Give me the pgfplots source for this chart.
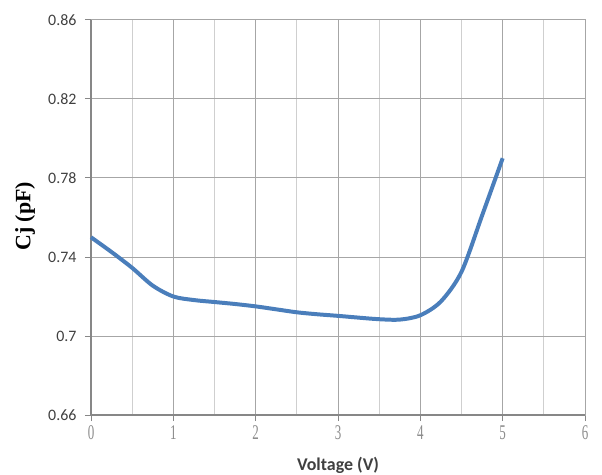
\documentclass[border=0pt]{standalone}
\usepackage{fontspec}
\setmainfont{Carlito}
\newfontfamily\serifx{Liberation Serif}
\usepackage{pgfplots}
\pgfplotsset{compat=1.18}
\definecolor{curve}{HTML}{4A7EBB}
\definecolor{majgrid}{HTML}{A6A6A6}
\definecolor{mingrid}{HTML}{CFCFCF}
\definecolor{axisdark}{HTML}{878787}
\definecolor{ylab}{HTML}{404040}
\definecolor{xlab}{HTML}{8C8C8C}
\begin{document}
\begin{tikzpicture}
\path[use as bounding box] (-91bp,-60bp) rectangle (511bp,415bp);
\begin{axis}[
  at={(0,0)}, anchor=origin,
  scale only axis, width=494bp, height=395bp,
  xmin=0, xmax=6, ymin=0.66, ymax=0.86,
  xtick={0,1,2,3,4,5,6},
  minor x tick num=1,
  ytick={0.66,0.70,0.74,0.78,0.82,0.86},
  yticklabels={0.66,0.7,0.74,0.78,0.82,0.86},
  xmajorgrids, xminorgrids, ymajorgrids,
  major grid style={draw=majgrid, line width=1pt},
  minor grid style={draw=mingrid, line width=1pt},
  axis line style={draw=majgrid, line width=1pt},
  tick style={draw=axisdark, line width=1pt},
  major tick length=6bp, minor tick length=0pt,
  tick align=outside,
  xtick pos=bottom, ytick pos=left,
  /pgf/number format/assume math mode=true,
  yticklabel style={font=\fontsize{16}{16}\selectfont, color=ylab, xshift=-5bp},
  xticklabel={\scalebox{0.62}[1]{\pgfmathprintnumber{\tick}}},
  xticklabel style={font=\serifx\fontsize{21}{21}\selectfont, color=xlab, yshift=-1bp},
  xlabel={\textbf{Voltage (V)}},
  xlabel style={font=\fontsize{18}{18}\selectfont, color=ylab, at={(axis description cs:0.5,0)}, anchor=center, yshift=-50bp},
  ylabel={\serifx\bfseries Cj (pF)},
  ylabel style={font=\fontsize{22}{22}\selectfont, color=black, at={(axis description cs:-0.1336,0.503)}, anchor=center},
  clip=false,
]
\draw[axisdark, line width=1.2pt] (rel axis cs:0,0) -- (rel axis cs:0,1);
\draw[axisdark, line width=1.2pt] (rel axis cs:0,0) -- (rel axis cs:1,0);
\addplot[curve, line width=4pt, smooth, tension=0.5] coordinates {
(0,0.7500) (0.25,0.7425) (0.5,0.7345) (0.75,0.7255) (1,0.7200)
(1.25,0.7182) (1.5,0.7172) (1.75,0.7162) (2,0.7150) (2.25,0.7135)
(2.5,0.7120) (2.75,0.7110) (3,0.7102) (3.25,0.7093) (3.5,0.7085)
(3.75,0.7083) (4,0.7105) (4.25,0.7175) (4.5,0.7325) (4.75,0.7610)
(5,0.7900)
};
\end{axis}
\end{tikzpicture}
\end{document}
